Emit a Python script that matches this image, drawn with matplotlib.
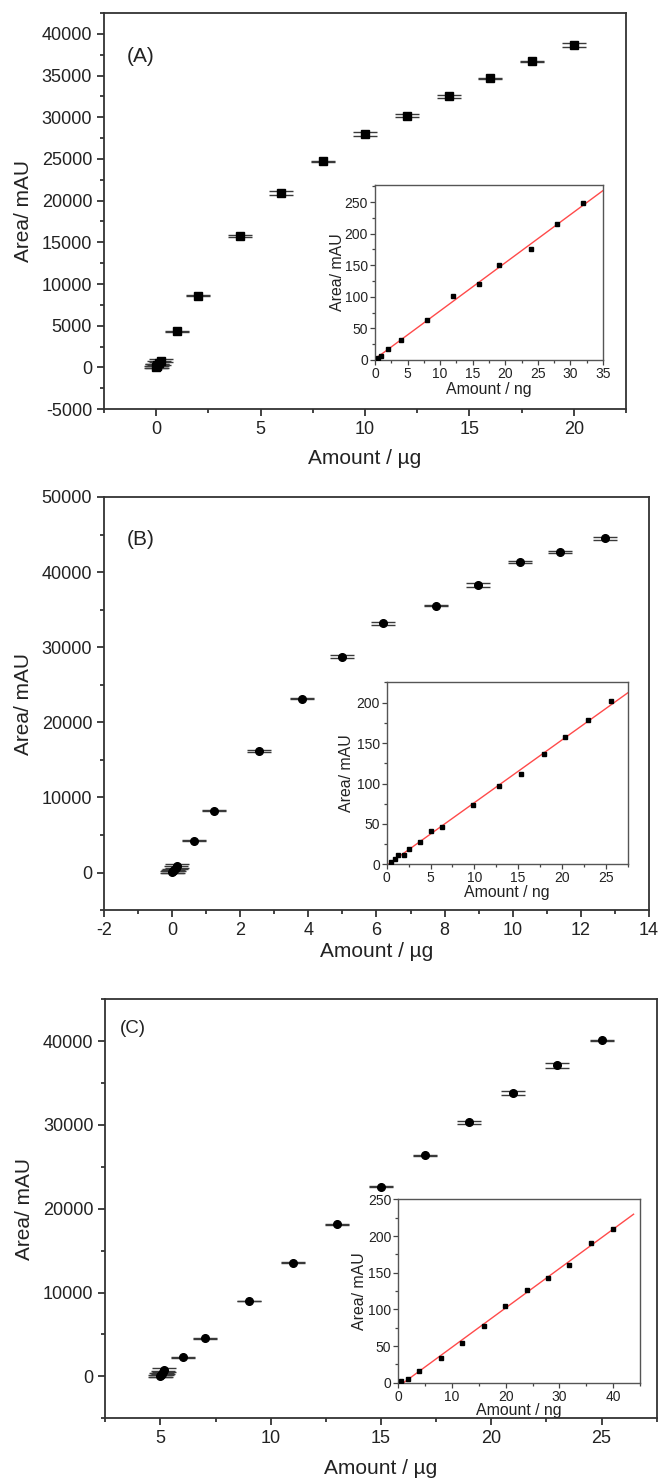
import matplotlib
matplotlib.use("Agg")
import matplotlib.pyplot as plt
from matplotlib.ticker import MultipleLocator
import numpy as np

plt.rcParams['font.family'] = ['Liberation Sans', 'DejaVu Sans']
plt.rcParams['axes.unicode_minus'] = False

# panel A (squares)
a_x = [0.01, 0.03, 0.06, 0.12, 0.25, 1, 2, 4, 6, 8, 10, 12, 14, 16, 18, 20]
a_y = [50, 150, 300, 500, 800, 4350, 8600, 15750, 20950, 24750, 28000, 30200, 32500, 34650, 36700, 38700]
a_err = [150, 200, 150, 250, 200, 60, 60, 100, 220, 60, 200, 220, 220, 50, 60, 220]
ai_x = [0.4, 1, 2, 4, 8, 12, 16, 19, 24, 28, 32]
ai_y = [3, 7, 17, 32, 63, 101, 120, 151, 175, 215, 248]

# panel B (circles)
b_x = [0.01, 0.03, 0.06, 0.1, 0.13, 0.65, 1.24, 2.55, 3.8, 5.0, 6.2, 7.74, 8.97, 10.22, 11.4, 12.71]
b_y = [60, 150, 350, 600, 900, 4250, 8230, 16160, 23160, 28740, 33160, 35510, 38300, 41300, 42630, 44490]
b_err = [150, 200, 150, 200, 250, 60, 60, 180, 50, 200, 220, 50, 220, 150, 150, 220]
bi_x = [0.46, 0.97, 1.27, 1.97, 2.5, 3.78, 5.1, 6.3, 9.8, 12.8, 15.3, 17.9, 20.4, 23.0, 25.6]
bi_y = [3.3, 7, 11.6, 11.2, 19, 28, 41.3, 45.9, 73, 97, 112, 136, 157, 178, 202]

# panel C (circles)
c_x = [5.0, 5.03, 5.06, 5.1, 5.15, 6, 7, 9, 11, 13, 15, 17, 19, 21, 23, 25]
c_y = [50, 150, 300, 500, 750, 2270, 4530, 8990, 13590, 18160, 22610, 26390, 30320, 33850, 37110, 40090]
c_err = [150, 200, 150, 200, 200, 50, 50, 50, 50, 50, 60, 50, 150, 220, 250, 50]
ci_x = [0.43, 1.86, 3.85, 7.9, 11.9, 15.9, 19.8, 23.9, 27.9, 31.8, 35.9, 39.9]
ci_y = [1.8, 5.5, 15.5, 33.3, 54.7, 77.6, 104.9, 126.4, 142.8, 160.6, 190.2, 210.3]

panels = [
    dict(x=a_x, y=a_y, err=a_err, marker='s', tag='(A)',
         pos=[0.1578, 0.7236, 0.7921, 0.2676], xlim=(-2.5, 22.5), ylim=(-5000, 42500),
         xmaj=5, xmin=2.5, ymaj=5000, ymin=2500, tagxy=(0.071, 0.889), tagsize=15,
         ylab_x=-0.154, xlab_y=-0.125,
         ix=ai_x, iy=ai_y, ipos=[0.569, 0.7568, 0.346, 0.1182], ixlim=(0, 35), iylim=(0, 277),
         ixmaj=5, ixmin=2.5, iymaj=50, iymin=25, fit=(0, 35), iylab_x=-0.165, ixlab_y=-0.17),
    dict(x=b_x, y=b_y, err=b_err, marker='o', tag='(B)',
         pos=[0.1578, 0.3851, 0.827, 0.2791], xlim=(-2, 14), ylim=(-5000, 50000),
         xmaj=2, xmin=1, ymaj=10000, ymin=5000, tagxy=(0.067, 0.896), tagsize=15,
         ylab_x=-0.147, xlab_y=-0.10,
         ix=bi_x, iy=bi_y, ipos=[0.5868, 0.416, 0.3657, 0.1234], ixlim=(0, 27.5), iylim=(0, 226),
         ixmaj=5, ixmin=2.5, iymaj=50, iymin=25, fit=(0, 27.5), iylab_x=-0.165, ixlab_y=-0.155),
    dict(x=c_x, y=c_y, err=c_err, marker='o', tag='(C)',
         pos=[0.1598, 0.0417, 0.8367, 0.2831], xlim=(2.5, 27.5), ylim=(-5000, 45000),
         xmaj=5, xmin=2.5, ymaj=10000, ymin=5000, tagxy=(0.05, 0.931), tagsize=13.5,
         ylab_x=-0.147, xlab_y=-0.12,
         ix=ci_x, iy=ci_y, ipos=[0.6044, 0.0657, 0.3668, 0.1239], ixlim=(0, 45), iylim=(0, 250),
         ixmaj=10, ixmin=5, iymaj=50, iymin=25, fit=(0, 43.8), iylab_x=-0.16, ixlab_y=-0.15),
]

fig = plt.figure(figsize=(6.59, 14.8), dpi=100)

for p in panels:
    ax = fig.add_axes(p['pos'])
    ax.errorbar(p['x'], p['y'], yerr=p['err'], fmt=p['marker'], color='black',
                ms=5.5, ecolor='#3a3a3a', elinewidth=1.0, capsize=8.5, capthick=1.0)
    ax.set_xlim(*p['xlim'])
    ax.set_ylim(*p['ylim'])
    ax.xaxis.set_major_locator(MultipleLocator(p['xmaj']))
    ax.xaxis.set_minor_locator(MultipleLocator(p['xmin']))
    ax.yaxis.set_major_locator(MultipleLocator(p['ymaj']))
    ax.yaxis.set_minor_locator(MultipleLocator(p['ymin']))
    ax.tick_params(which='both', direction='out', top=False, right=False,
                   labelsize=13, width=1.2, colors='#222222', labelcolor='#222222')
    ax.tick_params(which='major', length=5)
    ax.tick_params(which='minor', length=3)
    for s in ax.spines.values():
        s.set_linewidth(1.3)
        s.set_color('#333333')
    ax.set_xlabel('Amount / µg', fontsize=15, color='#222222')
    ax.set_ylabel('Area/ mAU', fontsize=15, color='#222222')
    ax.xaxis.set_label_coords(0.5, p['xlab_y'])
    ax.yaxis.set_label_coords(p['ylab_x'], 0.5)
    ax.xaxis.label.set_va('center')
    ax.yaxis.label.set_va('center')
    ax.text(p['tagxy'][0], p['tagxy'][1], p['tag'], transform=ax.transAxes,
            fontsize=p['tagsize'], ha='center', va='center', color='#222222')

    # inset with linear fit
    ins = fig.add_axes(p['ipos'])
    ins.plot(p['ix'], p['iy'], 's', color='black', ms=2.6, zorder=3)
    slope, icpt = np.polyfit(p['ix'], p['iy'], 1)
    fx = np.array(p['fit'])
    ins.plot(fx, slope * fx + icpt, color='#ff4a4a', lw=1.0, zorder=2)
    ins.set_xlim(*p['ixlim'])
    ins.set_ylim(*p['iylim'])
    ins.xaxis.set_major_locator(MultipleLocator(p['ixmaj']))
    ins.xaxis.set_minor_locator(MultipleLocator(p['ixmin']))
    ins.yaxis.set_major_locator(MultipleLocator(p['iymaj']))
    ins.yaxis.set_minor_locator(MultipleLocator(p['iymin']))
    ins.tick_params(which='both', direction='out', top=False, right=False,
                    labelsize=10, width=0.9, colors='#444444', labelcolor='#222222', pad=1.5)
    ins.tick_params(which='major', length=3.5)
    ins.tick_params(which='minor', length=2)
    for s in ins.spines.values():
        s.set_linewidth(1.0)
        s.set_color('#555555')
    ins.set_xlabel('Amount / ng', fontsize=11.4, color='#222222')
    ins.set_ylabel('Area/ mAU', fontsize=11.4, color='#222222')
    ins.xaxis.set_label_coords(0.5, p['ixlab_y'])
    ins.yaxis.set_label_coords(p['iylab_x'], 0.5)
    ins.xaxis.label.set_va('center')
    ins.yaxis.label.set_va('center')

fig.savefig('out.png', dpi=100)
